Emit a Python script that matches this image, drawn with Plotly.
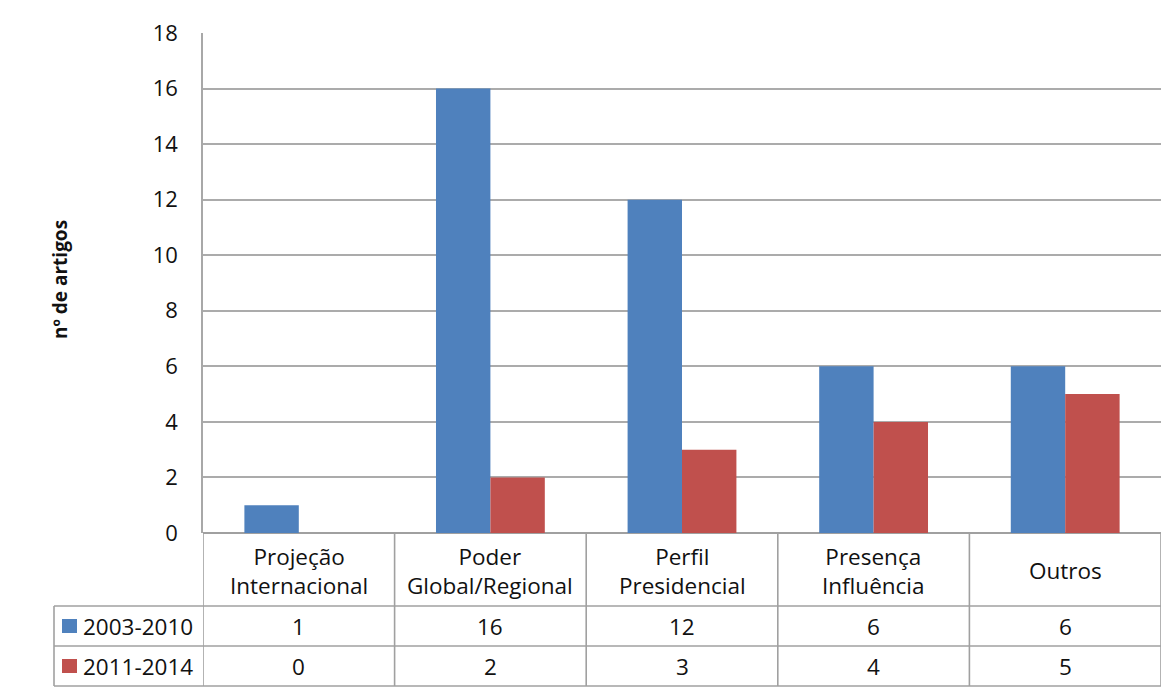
import plotly.graph_objects as go

# Article counts per theme, by period
categories = ["Projeção<br>Internacional", "Poder<br>Global/Regional",
              "Perfil<br>Presidencial", "Presença<br>Influência", "Outros"]
series_names = ["2003-2010", "2011-2014"]
values_2003_2010 = [1, 16, 12, 6, 6]
values_2011_2014 = [0, 2, 3, 4, 5]
series_values = [values_2003_2010, values_2011_2014]
series_colors = ["#4F81BD", "#C0504D"]

y_ticks = [0, 2, 4, 6, 8, 10, 12, 14, 16, 18]

W, H = 1176, 694
M_L, M_R, M_T, M_B = 203, 15, 33, 161
PLOT_H = H - M_T - M_B
PLOT_W = W - M_L - M_R
FONT = "Open Sans"
TXT = "#111"
LINE = "#a0a0a0"
TABLE_SIZE = 22.5


def py(pixel_y):
    """Pixel row (from top of page) -> paper y."""
    return (H - M_B - pixel_y) / PLOT_H


def px(pixel_x):
    """Pixel column -> paper x."""
    return (pixel_x - M_L) / PLOT_W


idx = list(range(len(categories)))

fig = go.Figure()
for name, vals, col in zip(series_names, series_values, series_colors):
    fig.add_trace(go.Bar(x=idx, y=vals, name=name, marker_color=col,
                         marker_line_width=0))

shapes = []
annotations = []

# Data table below the plot: rows at fixed pixel bands
header_bottom, row1_bottom, row2_bottom = 606, 646, 686
table_left = 54

# horizontal rules
for yy in (header_bottom, row1_bottom, row2_bottom):
    shapes.append(dict(type="line", xref="paper", yref="paper",
                       x0=px(table_left), x1=1, y0=py(yy), y1=py(yy),
                       line=dict(color=LINE, width=1.6)))
# vertical rules at category boundaries
n = len(categories)
for i in range(n + 1):
    shapes.append(dict(type="line", xref="x", yref="paper",
                       x0=i - 0.5, x1=i - 0.5, y0=0, y1=py(row2_bottom),
                       line=dict(color=LINE, width=1.6)))
# left border of the legend column
shapes.append(dict(type="line", xref="paper", yref="paper",
                   x0=px(table_left), x1=px(table_left),
                   y0=py(header_bottom), y1=py(row2_bottom),
                   line=dict(color=LINE, width=1.6)))

# category header labels
header_mid = (H - M_B + header_bottom) / 2
for i, cat in enumerate(categories):
    annotations.append(dict(x=i, y=py(header_mid + 1), xref="x", yref="paper",
                            text=cat, showarrow=False,
                            font=dict(family=FONT, size=TABLE_SIZE, color=TXT),
                            xanchor="center", yanchor="middle"))

# series rows: legend key, name and values
row_bands = [(header_bottom, row1_bottom), (row1_bottom, row2_bottom)]
for (top, bot), name, vals, col in zip(row_bands, series_names,
                                        series_values, series_colors):
    mid = (top + bot) / 2
    shapes.append(dict(type="rect", xref="paper", yref="paper",
                       x0=px(62), x1=px(77), y0=py(mid - 7), y1=py(mid + 7),
                       fillcolor=col, line=dict(width=0)))
    annotations.append(dict(x=px(81), y=py(mid), xref="paper", yref="paper",
                            text=name, showarrow=False,
                            font=dict(family=FONT, size=TABLE_SIZE, color=TXT),
                            xanchor="left", yanchor="middle"))
    for i, v in enumerate(vals):
        annotations.append(dict(x=i, y=py(mid), xref="x", yref="paper",
                                text=str(v), showarrow=False,
                                font=dict(family=FONT, size=TABLE_SIZE, color=TXT),
                                xanchor="center", yanchor="middle"))

# rotated y-axis title
annotations.append(dict(x=px(60), y=py(280), xref="paper", yref="paper",
                        text="<b>nº de artigos</b>", showarrow=False,
                        textangle=-90,
                        font=dict(family=FONT, size=19, color=TXT),
                        xanchor="center", yanchor="middle"))

fig.update_layout(
    width=W, height=H,
    margin=dict(l=M_L, r=M_R, t=M_T, b=M_B, pad=0),
    paper_bgcolor="white", plot_bgcolor="white",
    barmode="group", bargap=0.432, bargroupgap=0,
    showlegend=False,
    shapes=shapes, annotations=annotations,
    font=dict(family=FONT, color=TXT),
)
fig.update_xaxes(range=[-0.5, n - 0.5], showticklabels=False, showgrid=False,
                 zeroline=False, showline=False, fixedrange=True)
fig.update_yaxes(range=[0, 18], tickvals=y_ticks, showgrid=True,
                 gridcolor="#ababab", gridwidth=1.6,
                 zeroline=True, zerolinecolor="#a0a0a0", zerolinewidth=1.6,
                 showline=True, linecolor="#a8a8a8", linewidth=1.6,
                 ticks="", ticklabelstandoff=19,
                 tickfont=dict(family=FONT, size=22, color=TXT),
                 fixedrange=True)

fig.write_html("out.html")
